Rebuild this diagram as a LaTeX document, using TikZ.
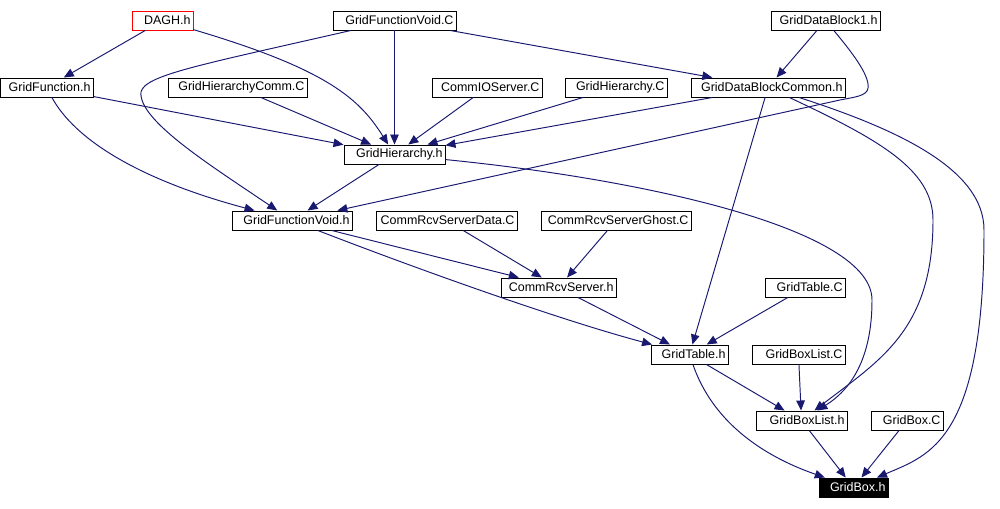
\documentclass[tikz,border=0pt]{standalone}
\usepackage{fontspec}
\setmainfont{Liberation Sans}
\usepackage{xcolor}
\usepackage{tikz}
\usetikzlibrary{arrows.meta}
\definecolor{edgeblue}{HTML}{191970}

\begin{document}
\begin{tikzpicture}[
  x=0.02cm, y=-0.02cm,
  font=\fontsize{7.1}{8}\selectfont,
  filebox/.style={rectangle, draw=black, line width=0.55pt, minimum height=0.38cm, inner xsep=0.05cm, inner ysep=0pt, text width=#1, align=right},
  dep/.style={draw=edgeblue, line width=0.55pt, -{Triangle[length=0.2cm, width=0.17cm]}}
]
\useasboundingbox (0,0) rectangle (1000,509);
\node (dagh) [filebox=1.12cm, draw=red] at (162.5,20.5) {DAGH.h};
\node (gfvc) [filebox=2.36cm] at (394.5,20.5) {GridFunctionVoid.C};
\node (gdb1) [filebox=2.08cm] at (825.5,20.5) {GridDataBlock1.h};
\node (gfh) [filebox=1.76cm] at (46.5,87.5) {GridFunction.h};
\node (ghcc) [filebox=2.68cm] at (237.5,87.5) {GridHierarchyComm.C};
\node (ciosc) [filebox=2.10cm] at (487,87.5) {CommIOServer.C};
\node (ghc) [filebox=1.94cm] at (616,87.5) {GridHierarchy.C};
\node (gdbch) [filebox=2.98cm] at (768,87.5) {GridDataBlockCommon.h};
\node (ghh) [filebox=1.92cm] at (394.5,154.5) {GridHierarchy.h};
\node (gfvh) [filebox=2.30cm] at (292,220.5) {GridFunctionVoid.h};
\node (crsdc) [filebox=2.72cm] at (446.5,220.5) {CommRcvServerData.C};
\node (crsgc) [filebox=2.90cm] at (616,220.5) {CommRcvServerGhost.C};
\node (crsh) [filebox=2.20cm] at (558.5,287.5) {CommRcvServer.h};
\node (gtc) [filebox=1.50cm] at (805,287.5) {GridTable.C};
\node (gth) [filebox=1.44cm] at (689.5,354.5) {GridTable.h};
\node (gblc) [filebox=1.76cm] at (798.5,354.5) {GridBoxList.C};
\node (gblh) [filebox=1.72cm] at (801.5,420.5) {GridBoxList.h};
\node (gbc) [filebox=1.34cm] at (907,420.5) {GridBox.C};
\node (gbh) [filebox=1.28cm, fill=black, text=white] at (853.5,487.5) {GridBox.h};
\draw [dep] (dagh) -- (gfh);
\draw [dep] (dagh) .. controls (330,70) and (360,100) .. (ghh);
\draw [dep] (gfvc) .. controls (200,65) and (145,75) .. (141,92) .. controls (138,120) and (210,165) .. (gfvh);
\draw [dep] (gfvc) -- (ghh);
\draw [dep] (gfvc) -- (gdbch);
\draw [dep] (gdb1) -- (gdbch);
\draw [dep] (gdb1) .. controls (850,50) and (870,75) .. (868,88) .. controls (867,96) and (855,97) .. (840,100) -- (gfvh);
\draw [dep] (gfh) -- (ghh);
\draw [dep] (gfh) .. controls (75,140) and (140,180) .. (gfvh);
\draw [dep] (ghcc) -- (ghh);
\draw [dep] (ciosc) -- (ghh);
\draw [dep] (ghc) -- (ghh);
\draw [dep] (gdbch) -- (ghh);
\draw [dep] (gdbch) -- (gth);
\draw [dep] (gdbch) .. controls (880,140) and (933,170) .. (933,220) .. controls (933,330) and (880,360) .. (gblh);
\draw [dep] (gdbch) .. controls (900,130) and (984,170) .. (984,230) .. controls (984,440) and (930,455) .. (gbh);
\draw [dep] (ghh) -- (gfvh);
\draw [dep] (ghh) .. controls (650,180) and (872,230) .. (872,300) .. controls (872,360) and (850,390) .. (gblh);
\draw [dep] (gfvh) -- (crsh);
\draw [dep] (gfvh) .. controls (420,270) and (560,320) .. (gth);
\draw [dep] (crsdc) -- (crsh);
\draw [dep] (crsgc) -- (crsh);
\draw [dep] (crsh) -- (gth);
\draw [dep] (gtc) -- (gth);
\draw [dep] (gth) -- (gblh);
\draw [dep] (gth) .. controls (712,420) and (760,455) .. (gbh);
\draw [dep] (gblc) -- (gblh);
\draw [dep] (gblh) -- (gbh);
\draw [dep] (gbc) -- (gbh);
\end{tikzpicture}
\end{document}
